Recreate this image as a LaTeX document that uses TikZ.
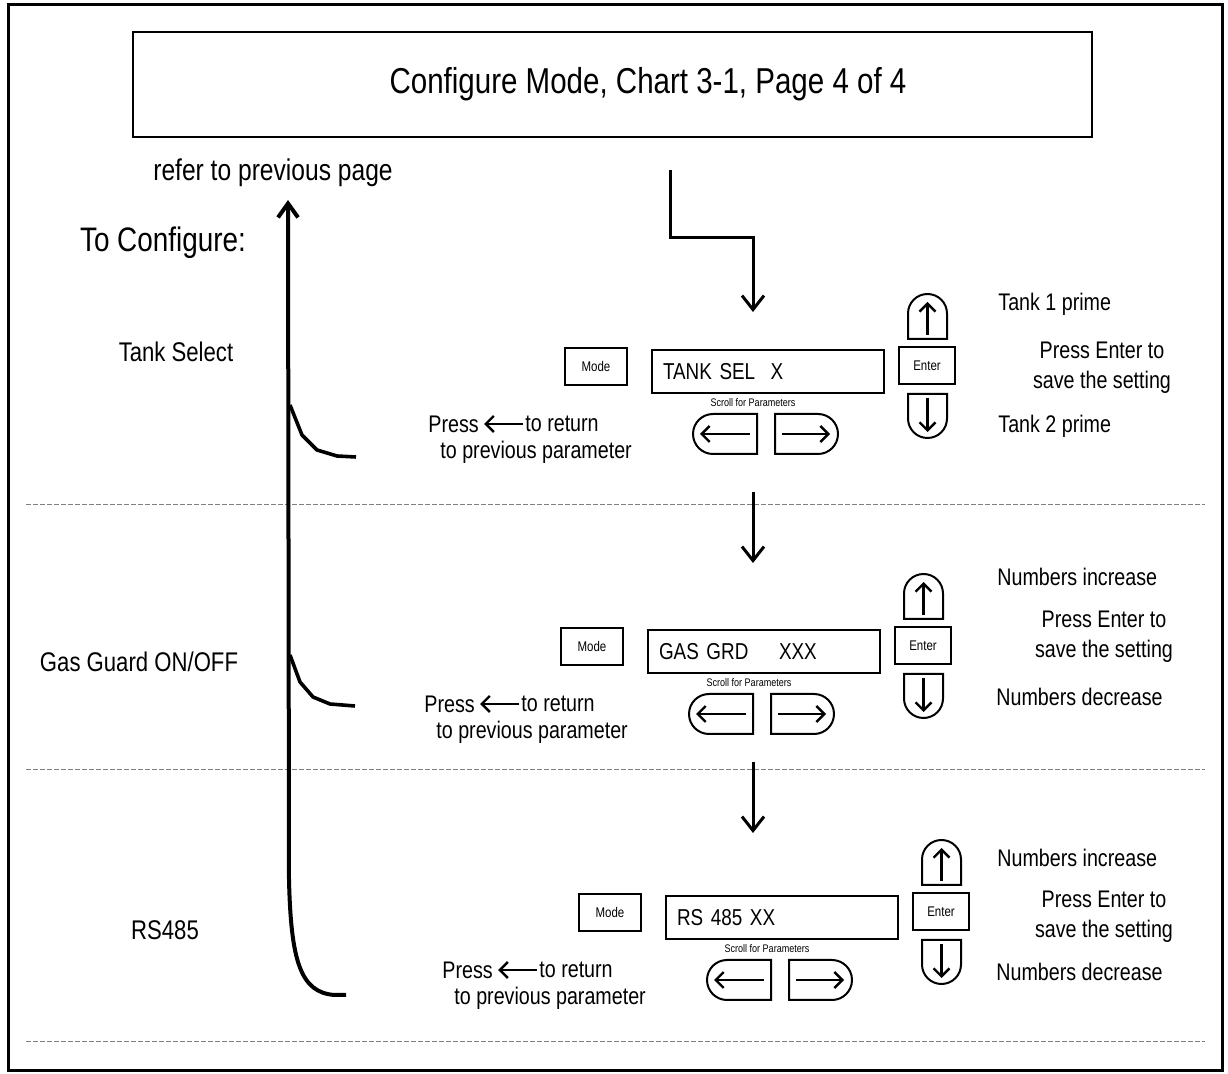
\documentclass[tikz,border=0pt]{standalone}
\usepackage{fontspec}
\setmainfont[FakeStretch=0.82]{Liberation Sans}
\usetikzlibrary{arrows.meta}

\tikzset{
  frame/.style={line width=1.5pt},
  keyshape/.style={draw, line width=1pt},
  dispbox/.style={draw, line width=1.4pt, minimum height=21.5pt, text width=105pt,
    inner xsep=5.5pt, align=left, font=\fontsize{11.5}{13}\selectfont},
  modebox/.style={draw, line width=1pt, minimum width=31pt, minimum height=18.5pt,
    inner sep=0pt, font=\fontsize{7}{8}\selectfont},
  enterbox/.style={modebox, minimum width=28pt},
  flow/.style={line width=1.5pt, -{Straight Barb[length=7pt,width=11pt]}},
  keyarrow/.style={line width=1.2pt, -{Straight Barb[length=4pt,width=8pt]}},
  lbl/.style={font=\fontsize{12}{15}\selectfont, inner sep=0pt},
  side/.style={font=\fontsize{13.5}{15}\selectfont},
  sepline/.style={gray, line width=0.5pt, dash pattern=on 2.5pt off 1pt},
  branch/.style={line width=1.8pt, line join=round}
}

\begin{document}
\begin{tikzpicture}[x=0.5pt,y=0.5pt]
  \useasboundingbox (0,0) rectangle (1228,-1074);

  % Marco y título
  \draw[frame] (8,-5) rectangle (1222,-1071);
  \draw[line width=1pt] (133,-32) rectangle (1092,-137);
  \node[font=\fontsize{18}{20}\selectfont] (title) at (648,-84) {Configure Mode, Chart 3-1, Page 4 of 4};

  % Líneas de separación
  \foreach \y in {505,770,1042}
    \draw[sepline] (26,-\y) -- (1205,-\y);

  % Etiquetas a la izquierda
  \node[font=\fontsize{15}{18}\selectfont] (refer) at (273,-173) {refer to previous page};
  \node[font=\fontsize{17}{20}\selectfont, anchor=west] (conf) at (73,-243) {To Configure:};
  \node[side] (tank) at (176,-352) {Tank Select};
  \node[side] (gas) at (139,-662) {Gas Guard ON/OFF};
  \node[side] (rs) at (165,-930) {RS485};

  % Línea de retorno
  \coordinate (top) at (288,-200);
  \coordinate (foot) at (346,-995);
  \draw[line width=2pt, -{Straight Barb[length=7pt,width=10pt]}]
    (foot) -- (335,-995) .. controls (300,-993) and (291,-960) .. (289,-880) -- (top);
  \draw[branch] (290,-405) -- (302,-435) -- (317,-450) -- (337,-456) -- (356,-457);
  \draw[branch] (290,-655) -- (300,-682) -- (313,-697) -- (330,-704) -- (355,-706);

  % Flechas de flujo
  \coordinate (s1) at (670,-170);
  \coordinate (e1) at (753,-312);
  \coordinate (s2) at (753,-492);
  \coordinate (e2) at (753,-563);
  \coordinate (s3) at (753,-762);
  \coordinate (e3) at (753,-833);
  \draw[flow] (s1) -- ++(0,-68) -| (e1);
  \draw[flow] (s2) -- (e2);
  \draw[flow] (s3) -- (e3);

  % Paneles
  \foreach \p/\dx/\dy/\txt in {1/0/0/{TANK SEL\ \ X}, 2/-4/280/{GAS GRD\ \ \ \ XXX}, 3/14/546/{RS 485 XX}}{
    \begin{scope}[shift={(\dx,-\dy)}]
      \node[modebox] (mode\p) at (596,-366.5) {Mode};
      \node[dispbox] (disp\p) at (768,-371.5) {\txt};
      \node[enterbox] (enter\p) at (927,-365.5) {Enter};
      \node[font=\fontsize{5.5}{6}\selectfont] (scroll\p) at (753,-403) {Scroll for Parameters};

      % Teclas
      \draw[keyshape] (908,-339) -- (908,-313.5) arc[start angle=180, end angle=0, radius=9.75pt] -- (947,-339) -- cycle;
      \draw[keyshape] (908,-394) -- (947,-394) -- (947,-418.5) arc[start angle=0, end angle=-180, radius=9.75pt] -- cycle;
      \draw[keyshape] (757,-414) -- (713,-414) arc[start angle=90, end angle=270, radius=10pt] -- (757,-454) -- cycle;
      \draw[keyshape] (775,-414) -- (818,-414) arc[start angle=90, end angle=-90, radius=10pt] -- (775,-454) -- cycle;
      \draw[keyarrow] (927.5,-335) -- (927.5,-302);
      \draw[keyarrow] (927.5,-398) -- (927.5,-432);
      \draw[keyarrow] (750,-434) -- (700,-434);
      \draw[keyarrow] (782,-434) -- (830,-434);

      % Texto de retorno
      \node[lbl, anchor=west] (press\p) at (428,-424) {Press};
      \node[lbl, anchor=west] (ret\p) at (525,-424) {to return};
      \node[lbl, anchor=west] (prev\p) at (440,-452) {to previous parameter};
      \draw[keyarrow, shorten >=2.5pt, shorten <=1pt] (ret\p.west) -- (press\p.east);
    \end{scope}
  }

  % Textos a la derecha
  \node[lbl, anchor=west] (up1) at (998,-304) {Tank 1 prime};
  \node[lbl, anchor=west] (dn1) at (998,-426) {Tank 2 prime};
  \node[lbl, align=center] (save1) at (1102,-368) {Press Enter to\\save the setting};

  \node[lbl, anchor=west] (up2) at (997,-577) {Numbers increase};
  \node[lbl, anchor=west] (dn2) at (996,-697) {Numbers decrease};
  \node[lbl, align=center] (save2) at (1104,-637) {Press Enter to\\save the setting};

  \node[lbl, anchor=west] (up3) at (997,-858) {Numbers increase};
  \node[lbl, anchor=west] (dn3) at (996,-972) {Numbers decrease};
  \node[lbl, align=center] (save3) at (1104,-917) {Press Enter to\\save the setting};

\end{tikzpicture}
\end{document}
